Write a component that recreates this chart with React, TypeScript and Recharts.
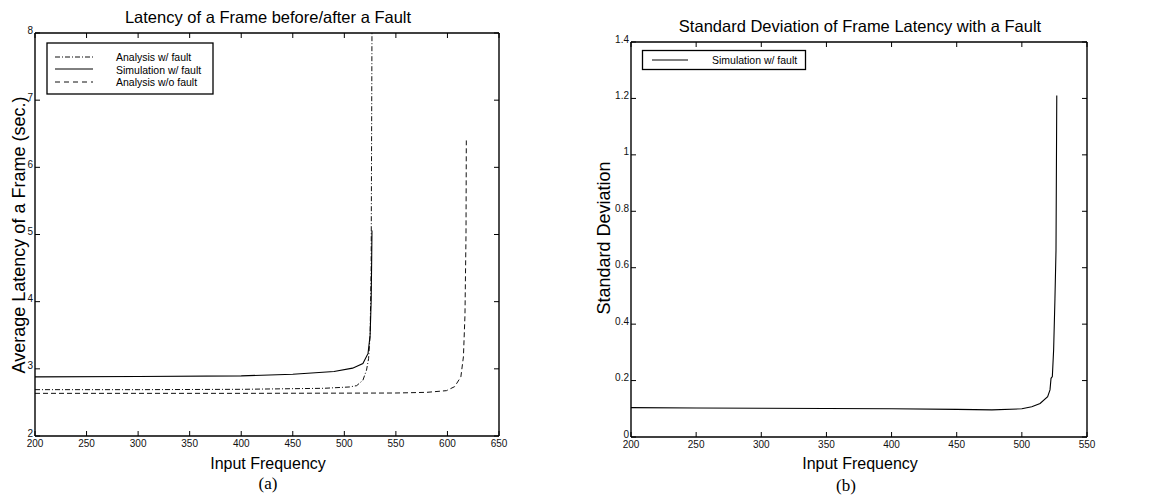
import React from "react";
import { LineChart, Line, XAxis, YAxis } from "recharts";

// ---- Chart (a) data ----
const anaFaultX = [200, 300, 400, 480, 505, 512, 518, 521.5, 523.5, 525, 526, 526.8];
const anaFaultY = [2.69, 2.69, 2.695, 2.71, 2.73, 2.75, 2.83, 2.98, 3.15, 3.5, 4.5, 8.0];
const simFaultX = [200, 300, 400, 450, 490, 508, 518, 523, 525, 526, 526.5, 526.8];
const simFaultY = [2.88, 2.885, 2.895, 2.92, 2.96, 3.01, 3.08, 3.23, 3.5, 4.0, 4.6, 5.06];
const anaNoFaultX = [200, 400, 550, 580, 599, 607, 613, 615.5, 617, 618, 618.3];
const anaNoFaultY = [2.635, 2.635, 2.64, 2.65, 2.675, 2.735, 2.88, 3.18, 3.8, 5.0, 6.4];
const xTicksA = [200, 250, 300, 350, 400, 450, 500, 550, 600, 650];
const yTicksA = [2, 3, 4, 5, 6, 7, 8];

// ---- Chart (b) data ----
const sdX = [200, 250, 300, 350, 400, 450, 477, 500, 507.6, 514, 519.8, 521.6, 522.4, 523.4, 524.4, 525.4, 526.2, 526.8];
const sdY = [0.104, 0.103, 0.102, 0.101, 0.1, 0.098, 0.096, 0.1, 0.107, 0.119, 0.143, 0.167, 0.208, 0.214, 0.31, 0.49, 0.66, 1.21];
const xTicksB = [200, 250, 300, 350, 400, 450, 500, 550];
const yTicksB = [0, 0.2, 0.4, 0.6, 0.8, 1, 1.2, 1.4];

const zip = (xs: number[], ys: number[]) => xs.map((x, i) => ({ x, y: ys[i] }));

const FONT = "'Liberation Sans', Arial, Helvetica, sans-serif";
const TICK = 5;

const BottomTick = (p: any) => (
  <g>
    <line x1={p.x} y1={p.y} x2={p.x} y2={p.y - TICK} stroke="#000" />
    <text x={p.x} y={p.y + 4} textAnchor="middle" dominantBaseline="hanging" fontSize={10} fontFamily={FONT} fill="#111">
      {p.payload.value}
    </text>
  </g>
);
const TopTick = (p: any) => (
  <line x1={p.x} y1={p.y} x2={p.x} y2={p.y + TICK} stroke="#000" />
);
const LeftTick = (p: any) => (
  <g>
    <line x1={p.x} y1={p.y} x2={p.x + TICK} y2={p.y} stroke="#000" />
    <text x={p.x - 2} y={p.y - 3} textAnchor="end" dominantBaseline="central" fontSize={10} fontFamily={FONT} fill="#111">
      {p.payload.value}
    </text>
  </g>
);
const RightTick = (p: any) => (
  <line x1={p.x} y1={p.y} x2={p.x - TICK} y2={p.y} stroke="#000" />
);

const abs = (left: number, top: number, extra: React.CSSProperties = {}): React.CSSProperties => ({
  position: "absolute", left, top, transform: "translate(-50%,-50%)", whiteSpace: "nowrap", ...extra,
});

const axisLine = { stroke: "#000", strokeWidth: 1.4 };

export default function App() {
  return (
    <div style={{ position: "fixed", left: 0, top: 0, width: 1150, height: 502, background: "#fff", fontFamily: FONT, color: "#000", overflow: "hidden" }}>
      {/* Chart (a) */}
      <div style={{ position: "absolute", left: 0, top: 0 }}>
        <LineChart width={575} height={502} margin={{ top: 32, left: 34, right: 75, bottom: 65 }}>
          <XAxis xAxisId={0} type="number" dataKey="x" domain={[200, 650]} ticks={xTicksA} allowDataOverflow
            height={1} tickSize={0} tickMargin={0} tickLine={false} tick={BottomTick} axisLine={axisLine} interval={0} />
          <XAxis xAxisId="top" orientation="top" type="number" dataKey="x" domain={[200, 650]} ticks={xTicksA} allowDataOverflow
            height={1} tickSize={0} tickMargin={0} tickLine={false} tick={TopTick} axisLine={axisLine} interval={0} />
          <YAxis yAxisId={0} type="number" domain={[2, 8]} ticks={yTicksA} allowDataOverflow
            width={1} tickSize={0} tickMargin={0} tickLine={false} tick={LeftTick} axisLine={axisLine} interval={0} />
          <YAxis yAxisId="r" orientation="right" type="number" domain={[2, 8]} ticks={yTicksA} allowDataOverflow
            width={1} tickSize={0} tickMargin={0} tickLine={false} tick={RightTick} axisLine={axisLine} interval={0} />
          <Line data={zip(anaFaultX, anaFaultY)} dataKey="y" type="linear" stroke="#111" strokeWidth={1}
            strokeDasharray="5 2 1 2" dot={false} isAnimationActive={false} name="Analysis w/ fault" />
          <Line data={zip(simFaultX, simFaultY)} dataKey="y" type="linear" stroke="#000" strokeWidth={1.1}
            dot={false} isAnimationActive={false} name="Simulation w/ fault" />
          <Line data={zip(anaNoFaultX, anaNoFaultY)} dataKey="y" type="linear" stroke="#111" strokeWidth={1}
            strokeDasharray="5 3" dot={false} isAnimationActive={false} name="Analysis w/o fault" />
        </LineChart>
      </div>
      {/* Chart (b) */}
      <div style={{ position: "absolute", left: 575, top: 0 }}>
        <LineChart width={575} height={502} margin={{ top: 41, left: 55, right: 62, bottom: 64 }}>
          <XAxis xAxisId={0} type="number" dataKey="x" domain={[200, 550]} ticks={xTicksB} allowDataOverflow
            height={1} tickSize={0} tickMargin={0} tickLine={false} tick={BottomTick} axisLine={axisLine} interval={0} />
          <XAxis xAxisId="top" orientation="top" type="number" dataKey="x" domain={[200, 550]} ticks={xTicksB} allowDataOverflow
            height={1} tickSize={0} tickMargin={0} tickLine={false} tick={TopTick} axisLine={axisLine} interval={0} />
          <YAxis yAxisId={0} type="number" domain={[0, 1.4]} ticks={yTicksB} allowDataOverflow
            width={1} tickSize={0} tickMargin={0} tickLine={false} tick={LeftTick} axisLine={axisLine} interval={0} />
          <YAxis yAxisId="r" orientation="right" type="number" domain={[0, 1.4]} ticks={yTicksB} allowDataOverflow
            width={1} tickSize={0} tickMargin={0} tickLine={false} tick={RightTick} axisLine={axisLine} interval={0} />
          <Line data={zip(sdX, sdY)} dataKey="y" type="linear" stroke="#000" strokeWidth={1.1}
            dot={false} isAnimationActive={false} name="Simulation w/ fault" />
        </LineChart>
      </div>

      {/* Legend (a) */}
      <svg style={{ position: "absolute", left: 0, top: 0 }} width={575} height={120}>
        <rect x={47} y={43} width={166} height={51} fill="#fff" stroke="#000" strokeWidth={1.3} />
        <line x1={55} x2={93} y1={57} y2={57} stroke="#111" strokeDasharray="5 2 1 2" />
        <line x1={55} x2={93} y1={69} y2={69} stroke="#000" />
        <line x1={55} x2={93} y1={82} y2={82} stroke="#111" strokeDasharray="5 4" />
        <text x={116} y={56.5} fontSize={10.5} fontFamily={FONT} dominantBaseline="central">Analysis w/ fault</text>
        <text x={116} y={69.5} fontSize={10.5} fontFamily={FONT} dominantBaseline="central">Simulation w/ fault</text>
        <text x={116} y={82} fontSize={10.5} fontFamily={FONT} dominantBaseline="central">Analysis w/o fault</text>
      </svg>
      {/* Legend (b) */}
      <svg style={{ position: "absolute", left: 575, top: 0 }} width={575} height={120}>
        <rect x={67.5} y={50.5} width={163} height={19} fill="#fff" stroke="#000" strokeWidth={1.3} />
        <line x1={77} x2={113} y1={60} y2={60} stroke="#000" />
        <text x={137} y={60} fontSize={10.5} fontFamily={FONT} dominantBaseline="central">Simulation w/ fault</text>
      </svg>

      {/* Titles and labels (a) */}
      <div style={abs(268, 17, { fontSize: 16.5 })}>Latency of a Frame before/after a Fault</div>
      <div style={abs(19, 235, { fontSize: 18, transform: "translate(-50%,-50%) rotate(-90deg)" })}>Average Latency of a Frame (sec.)</div>
      <div style={abs(268, 464, { fontSize: 16 })}>Input Frequency</div>
      <div style={abs(268, 484, { fontSize: 17, fontFamily: "'Liberation Serif', 'Times New Roman', serif" })}>(a)</div>

      {/* Titles and labels (b) */}
      <div style={abs(860, 26, { fontSize: 16.5 })}>Standard Deviation of Frame Latency with a Fault</div>
      <div style={abs(604, 238, { fontSize: 18, transform: "translate(-50%,-50%) rotate(-90deg)" })}>Standard Deviation</div>
      <div style={abs(860, 464, { fontSize: 16 })}>Input Frequency</div>
      <div style={abs(846, 486, { fontSize: 17, fontFamily: "'Liberation Serif', 'Times New Roman', serif" })}>(b)</div>
    </div>
  );
}
